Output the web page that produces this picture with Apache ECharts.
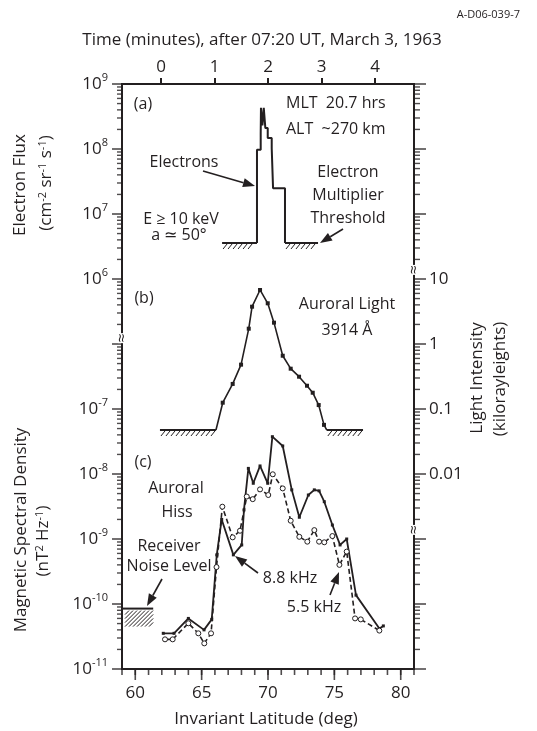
<!DOCTYPE html>
<html lang="en">
<head>
<meta charset="UTF-8">
<title>Electron flux, auroral light and auroral hiss</title>
<script src="https://cdn.jsdelivr.net/npm/echarts@6/dist/echarts.min.js"></script>
<style>
  html, body { margin: 0; padding: 0; background: #fff; }
  #main { width: 537px; height: 731px; }
</style>
</head>
<body>
<div id="main"></div>
<script>
// (a) electron flux, step curve: value holds from each latitude to the next
var elecLat  = [69.17, 69.17, 69.45, 69.47, 69.58, 69.68, 69.80, 69.98, 70.28, 70.38, 71.28];
var elecFlux = [3.58e6, 9.7e7, 1.76e8, 4.3e8, 2.3e8, 4.3e8, 2.1e8, 1.48e8, 1.03e8, 2.5e7, 3.58e6];
var elecThreshold = 3.58e6;
var elecThresholdSpans = [[66.54, 69.17], [71.28, 73.77]];

// (b) auroral light 3914 A, kilorayleighs
var lightLat = [66.08, 66.59, 67.34, 67.97, 68.55, 68.80, 69.40, 69.98, 70.45, 71.11, 71.71, 72.34, 72.94, 73.37, 73.82, 74.22, 74.43];
var lightVal = [0.0475, 0.125, 0.243, 0.481, 1.72, 3.75, 6.78, 4.23, 2.13, 0.66, 0.417, 0.314, 0.228, 0.178, 0.115, 0.057, 0.0475];
var lightThreshold = 0.0475;
var lightThresholdSpans = [[61.86, 66.08], [74.43, 77.16]];

// (c) auroral hiss, nT^2 Hz^-1
var hissLat88 = [62.11, 62.92, 64.0, 65.18, 65.76, 66.14, 66.51, 67.39, 68.02, 68.19, 68.52, 68.89, 69.40, 69.98,
                 70.33, 71.11, 71.79, 72.36, 73.04, 73.49, 73.85, 74.24, 74.85, 75.43, 75.93, 76.63, 78.39, 78.69];
var hiss88    = [3.54e-11, 3.54e-11, 6.0e-11, 4.0e-11, 5.8e-11, 5.7e-10, 2.0e-9, 5.7e-10, 8.1e-10, 2.8e-9, 1.22e-8, 7.2e-9, 1.33e-8, 7.2e-9,
                 3.75e-8, 2.7e-8, 5.7e-9, 2.16e-9, 4.75e-9, 5.7e-9, 5.5e-9, 3.75e-9, 1.64e-9, 8.1e-10, 1.0e-9, 1.37e-10, 4.2e-11, 4.6e-11];
var hissLat55 = [62.24, 62.82, 64.0, 64.75, 65.2, 65.71, 66.12, 66.56, 67.34, 67.89, 68.40, 68.85, 69.40, 70.02,
                 70.36, 71.11, 71.71, 72.36, 72.96, 73.49, 73.85, 74.24, 74.85, 75.38, 75.93, 76.56, 76.99, 78.39];
var hiss55    = [2.86e-11, 2.86e-11, 5.05e-11, 3.54e-11, 2.48e-11, 3.54e-11, 3.7e-10, 3.14e-9, 1.06e-9, 1.34e-9, 4.5e-9, 4.1e-9, 5.8e-9, 4.75e-9,
                 9.9e-9, 6.0e-9, 1.91e-9, 1.08e-9, 9.1e-10, 1.37e-9, 9.1e-10, 8.9e-10, 1.11e-9, 4.0e-10, 6.4e-10, 6.0e-11, 5.8e-11, 3.9e-11];
var noiseLevel = 8.5e-11;
var noiseSpan = [59, 61.35];

var latMajor = [60, 65, 70, 75, 80];
// where the vertical axes are broken (magnetic-axis units)
var breaksLeft = [Math.pow(10, -5.91)];
var breaksRight = [Math.pow(10, -4.86), Math.pow(10, -8.86)];

var INK = '#231f20';
var FONT = 'Open Sans';

var chart = echarts.init(document.getElementById('main'));

function pairs(xs, ys) {
  return xs.map(function (x, i) { return [x, ys[i]]; });
}
function expOf(v) { return Math.round(Math.log(v) / Math.LN10); }

var supRich = {
  b: { fontSize: 17, fontFamily: FONT, color: INK, lineHeight: 24 },
  s: { fontSize: 11, fontFamily: FONT, color: INK, lineHeight: 12, verticalAlign: 'top' }
};

function logAxis(min, max, pos, fmt, margin) {
  return {
    type: 'log', logBase: 10, min: min, max: max, splitNumber: 9, gridIndex: 0, position: pos,
    axisLine: { show: false }, axisTick: { show: false }, splitLine: { show: false },
    axisLabel: { margin: margin, formatter: fmt, rich: supRich, color: INK, fontFamily: FONT, fontSize: 17 }
  };
}

// hatched threshold line, strokes under the line
function hatchItem(params, api) {
  var a = api.coord([api.value(0), api.value(2)]);
  var b = api.coord([api.value(1), api.value(2)]);
  var kids = [{ type: 'line', shape: { x1: a[0], y1: a[1], x2: b[0], y2: b[1] }, style: { stroke: INK, lineWidth: 2 } }];
  for (var x = a[0] + 1; x <= b[0] - 5; x += 5) {
    kids.push({ type: 'line', shape: { x1: x, y1: a[1] + 6, x2: x + 4, y2: a[1] + 1 }, style: { stroke: INK, lineWidth: 1 } });
  }
  return { type: 'group', children: kids };
}

// receiver noise level box
function noiseItem(params, api) {
  var a = api.coord([api.value(0), api.value(2)]);
  var b = api.coord([api.value(1), api.value(2)]);
  var x0 = a[0] + 3, x1 = b[0], y0 = a[1] + 2, h = 16;
  var kids = [{ type: 'line', shape: { x1: a[0], y1: a[1], x2: b[0], y2: b[1] }, style: { stroke: INK, lineWidth: 2 } }];
  for (var t = x0 - h; t < x1; t += 4) {
    var sx = t, sy = y0 + h, ex = t + h, ey = y0;
    if (sx < x0) { sy -= (x0 - sx); sx = x0; }
    if (ex > x1) { ey += (ex - x1); ex = x1; }
    if (ex - sx > 0.5) {
      kids.push({ type: 'line', shape: { x1: sx, y1: sy, x2: ex, y2: ey }, style: { stroke: INK, lineWidth: 1 } });
    }
  }
  return { type: 'group', children: kids };
}

function breakItem(params, api) {
  var p = api.coord([api.value(0), api.value(1)]);
  return { type: 'group', children: [
    { type: 'rect', shape: { x: p[0] - 4, y: p[1] - 5, width: 8, height: 10 }, style: { fill: '#fff' } },
    { type: 'text', x: p[0], y: p[1], rotation: Math.PI / 2,
      style: { text: '\u2248', x: 0, y: 0, fontSize: 16, fontFamily: FONT, fill: INK,
               align: 'center', verticalAlign: 'middle', textAlign: 'center', textVerticalAlign: 'middle' } }
  ] };
}

// log ticks on the magnetic scale (both vertical axes), latitude ticks on the bottom axis
var yMajor = [], yMinor = [];
for (var e = -11; e <= -2; e++) {
  yMajor.push(Math.pow(10, e));
  if (e < -2) {
    for (var k = 2; k <= 9; k++) yMinor.push(k * Math.pow(10, e));
  }
}
var xMinor = [];
for (var lat = 59; lat <= 81; lat++) xMinor.push(lat);

// one scatter series of short bars per tick kind
function tickSeries(points, size, offset) {
  return {
    type: 'scatter', xAxisIndex: 0, yAxisIndex: 1, data: points, clip: false, silent: true,
    symbol: 'rect', symbolSize: size, symbolOffset: offset, itemStyle: { color: INK }, z: 7,
    emphasis: { disabled: true }
  };
}

function txt(x, y, s, size, align, rot) {
  var el = { type: 'text', x: x, y: y, z: 100,
    style: { text: s, x: 0, y: 0, fontSize: size || 16, fontFamily: FONT, fill: INK,
             align: align || 'center', verticalAlign: 'middle', textAlign: align || 'center', textVerticalAlign: 'middle',
             rich: { s: { fontSize: 11, fontFamily: FONT, fill: INK, lineHeight: 11, verticalAlign: 'top' } } } };
  if (rot) el.rotation = Math.PI / 2;
  return el;
}

function arrow(x1, y1, x2, y2) {
  var ang = Math.atan2(y2 - y1, x2 - x1), L = 12, W = 4.5;
  var bx = x2 - L * Math.cos(ang), by = y2 - L * Math.sin(ang);
  var nx = -Math.sin(ang) * W, ny = Math.cos(ang) * W;
  return [
    { type: 'line', z: 100, shape: { x1: x1, y1: y1, x2: bx, y2: by }, style: { stroke: INK, lineWidth: 1.6 } },
    { type: 'polygon', z: 100, shape: { points: [[x2, y2], [bx + nx, by + ny], [bx - nx, by - ny]] }, style: { fill: INK } }
  ];
}

var lightData = pairs(lightLat, lightVal).map(function (d, i) {
  var end = (i === 0 || i === lightLat.length - 1);
  return end ? { value: d, symbol: 'none' } : { value: d };
});

var graphics = [
  txt(520, 15, 'A-D06-039-7', 11, 'right'),
  txt(262, 40, 'Time (minutes), after 07:20 UT, March 3, 1963', 17),
  txt(20, 185, 'Electron Flux', 17, 'center', true),
  txt(46, 183, '(cm{s|-2} sr{s|-1} s{s|-1})', 17, 'center', true),
  txt(21, 530, 'Magnetic Spectral Density', 17, 'center', true),
  txt(43, 541, '(nT{s|2} Hz{s|-1})', 17, 'center', true),
  txt(477, 378, 'Light Intensity', 17, 'center', true),
  txt(500, 379, '(kilorayleights)', 17, 'center', true),
  txt(266, 719, 'Invariant Latitude (deg)', 17),
  txt(143, 104, '(a)', 16),
  txt(286, 103, 'MLT  20.7 hrs', 16, 'left'),
  txt(286, 129, 'ALT  ~270 km', 16, 'left'),
  txt(184, 162, 'Electrons', 16),
  txt(181, 219, 'E \u2265 10 keV', 16),
  txt(179, 235, 'a \u2243 50\u00b0', 16),
  txt(348, 172, 'Electron', 16),
  txt(348, 195, 'Multiplier', 16),
  txt(348, 218, 'Threshold', 16),
  txt(144, 298, '(b)', 16),
  txt(347, 304, 'Auroral Light', 16),
  txt(347, 330, '3914 \u00c5', 16),
  txt(143, 462, '(c)', 16),
  txt(176, 488, 'Auroral', 16),
  txt(177, 512, 'Hiss', 16),
  txt(169, 546, 'Receiver', 16),
  txt(169, 566, 'Noise Level', 16),
  txt(290, 578, '8.8 kHz', 16),
  txt(314, 607, '5.5 kHz', 16)
].concat(
  arrow(203, 171, 255, 186),
  arrow(343, 229, 320, 243),
  arrow(162, 579, 147, 606),
  arrow(258, 573, 235, 556),
  arrow(330, 595, 339, 572)
);

var option = {
  animation: false,
  backgroundColor: '#fff',
  grid: [
    { left: 122, right: 123, top: 84, bottom: 62, show: true, borderColor: INK, borderWidth: 2, backgroundColor: 'transparent' },
    { left: 161, right: 162, top: 84, height: 100, show: false }
  ],
  xAxis: [
    { type: 'value', gridIndex: 0, min: 59, max: 81, interval: 1, position: 'bottom',
      axisLine: { show: false, onZero: false }, axisTick: { show: false }, splitLine: { show: false },
      axisLabel: { margin: 16, fontSize: 17, fontFamily: FONT, color: INK,
                   formatter: function (v) { return v % 5 === 0 ? String(v) : ''; } } },
    { type: 'value', gridIndex: 1, min: 0, max: 4, interval: 1, position: 'top',
      axisLine: { show: false, onZero: false }, splitLine: { show: false },
      axisTick: { show: true, length: 6, lineStyle: { color: INK, width: 2 } },
      axisLabel: { margin: 8, fontSize: 17, fontFamily: FONT, color: INK } }
  ],
  yAxis: [
    logAxis(1, 1e9, 'left', function (v) { var n = expOf(v); return n >= 6 ? '{b|10}{s|' + n + '}' : ''; }, 14),
    logAxis(1e-11, 1e-2, 'left', function (v) { var n = expOf(v); return n <= -7 ? '{b|10}{s|' + n + '}' : ''; }, 14),
    logAxis(1e-5, 1e4, 'right', function (v) {
      var n = expOf(v);
      if (n < -2 || n > 1) return '';
      return n >= 0 ? '{b|' + Math.pow(10, n) + '}' : '{b|' + Math.pow(10, n).toFixed(-n) + '}';
    }, 15),
    { type: 'value', gridIndex: 1, min: 0, max: 1, show: false }
  ],
  graphic: graphics,
  series: [
    { name: 'Electrons', type: 'line', xAxisIndex: 0, yAxisIndex: 0, step: 'end', showSymbol: false,
      data: pairs(elecLat, elecFlux), lineStyle: { color: INK, width: 2 }, z: 5 },
    { name: 'Auroral Light', type: 'line', xAxisIndex: 0, yAxisIndex: 2, data: lightData,
      symbol: 'rect', symbolSize: 4, itemStyle: { color: INK }, lineStyle: { color: INK, width: 1.6 }, z: 5 },
    { name: '8.8 kHz', type: 'line', xAxisIndex: 0, yAxisIndex: 1, data: pairs(hissLat88, hiss88),
      symbol: 'rect', symbolSize: 3, itemStyle: { color: INK }, lineStyle: { color: INK, width: 1.8 }, z: 5 },
    { name: '5.5 kHz', type: 'line', xAxisIndex: 0, yAxisIndex: 1, data: pairs(hissLat55, hiss55),
      symbol: 'circle', symbolSize: 5, itemStyle: { color: '#fff', borderColor: INK, borderWidth: 1 },
      lineStyle: { color: INK, width: 1.6, type: [5, 3] }, z: 6 },
    { type: 'custom', xAxisIndex: 0, yAxisIndex: 0, encode: { x: [0, 1], y: 2 }, renderItem: hatchItem,
      data: elecThresholdSpans.map(function (s) { return [s[0], s[1], elecThreshold]; }), z: 4 },
    { type: 'custom', xAxisIndex: 0, yAxisIndex: 2, encode: { x: [0, 1], y: 2 }, renderItem: hatchItem,
      data: lightThresholdSpans.map(function (s) { return [s[0], s[1], lightThreshold]; }), z: 4 },
    { type: 'custom', xAxisIndex: 0, yAxisIndex: 1, encode: { x: [0, 1], y: 2 }, renderItem: noiseItem,
      data: [[noiseSpan[0], noiseSpan[1], noiseLevel]], z: 4 },
    tickSeries(yMajor.map(function (v) { return [59, v]; }), [10, 1.6], [-5, 0]),
    tickSeries(yMinor.map(function (v) { return [59, v]; }), [5, 1.4], [-2.5, 0]),
    tickSeries(yMajor.map(function (v) { return [81, v]; }), [12, 1.6], [6, 0]),
    tickSeries(yMinor.map(function (v) { return [81, v]; }), [6, 1.4], [3, 0]),
    tickSeries(xMinor.map(function (x) { return [x, 1e-11]; }), [1.6, 6], [0, 3]),
    tickSeries(latMajor.map(function (x) { return [x, 1e-11]; }), [1.6, 11], [0, 5.5]),
    { type: 'custom', xAxisIndex: 0, yAxisIndex: 1, encode: { x: 0, y: 1 }, renderItem: breakItem, clip: false,
      data: breaksLeft.map(function (v) { return [59, v]; }).concat(breaksRight.map(function (v) { return [81, v]; })), z: 8 }
  ]
};

chart.setOption(option);
</script>
</body>
</html>
